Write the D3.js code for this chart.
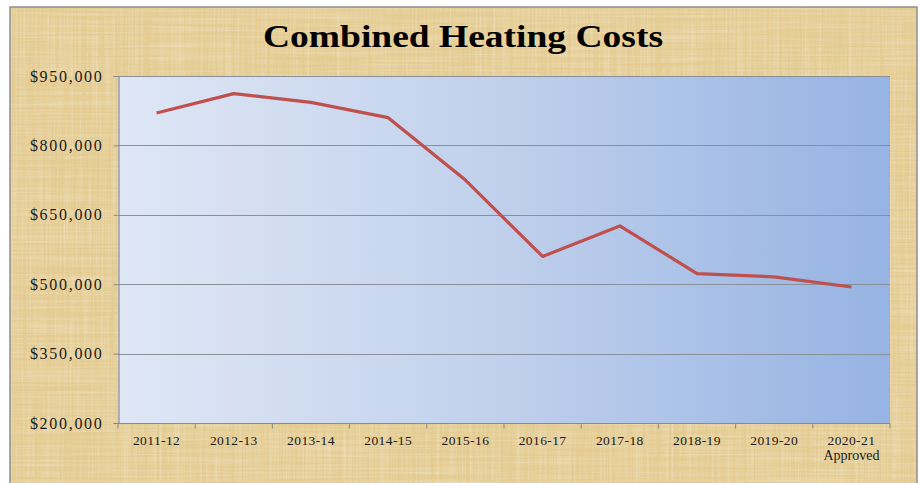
<!DOCTYPE html>
<html>
<head>
<meta charset="utf-8">
<script src="https://cdn.jsdelivr.net/npm/d3@7"></script>
<style>
  html, body { margin: 0; padding: 0; background: #ffffff; }
  svg { display: block; }
</style>
</head>
<body>
<svg id="chart" width="920" height="483"></svg>
<script>
// Fiscal years and combined heating cost per year
const categories = ["2011-12", "2012-13", "2013-14", "2014-15", "2015-16",
                    "2016-17", "2017-18", "2018-19", "2019-20", "2020-21"];
const categorySubLabels = ["", "", "", "", "", "", "", "", "", "Approved"];
const costs = [870000, 912000, 893000, 860000, 725000,
               560000, 626000, 523000, 516000, 494000];
const yTicks = [200000, 350000, 500000, 650000, 800000, 950000];
const titleText = "Combined Heating Costs";

const frame = { left: 10, top: 7, right: 917, bottom: 483 };
const plot = { left: 118, top: 76, right: 890, bottom: 423 };

const svg = d3.select("#chart");
const defs = svg.append("defs");

// Parchment texture: soft blotches over a pale tan base
const blotch = defs.append("filter").attr("id", "blotch")
  .attr("x", 0).attr("y", 0).attr("width", "100%").attr("height", "100%");
blotch.append("feTurbulence").attr("type", "fractalNoise")
  .attr("baseFrequency", "0.015").attr("numOctaves", 2).attr("seed", 2).attr("result", "n");
blotch.append("feColorMatrix").attr("in", "n").attr("type", "matrix")
  .attr("values",
    "0 0 0 0 0.84 " +
    "0 0 0 0 0.72 " +
    "0 0 0 0 0.45 " +
    "1.4 0 0 0 -0.5")
  .attr("result", "tint");
blotch.append("feComposite").attr("in", "tint").attr("in2", "SourceGraphic").attr("operator", "atop");

// Fine crossing fibres
const fibre = defs.append("filter").attr("id", "fibre")
  .attr("x", 0).attr("y", 0).attr("width", "100%").attr("height", "100%");
fibre.append("feTurbulence").attr("type", "fractalNoise")
  .attr("baseFrequency", "0.008 0.5").attr("numOctaves", 2).attr("seed", 4).attr("result", "n1");
fibre.append("feTurbulence").attr("type", "fractalNoise")
  .attr("baseFrequency", "0.5 0.008").attr("numOctaves", 2).attr("seed", 9).attr("result", "n2");
fibre.append("feComposite").attr("in", "n1").attr("in2", "n2")
  .attr("operator", "arithmetic").attr("k2", 0.5).attr("k3", 0.5).attr("result", "n12");
fibre.append("feColorMatrix").attr("in", "n12").attr("type", "matrix")
  .attr("values",
    "0 0 0 0 0.86 " +
    "0 0 0 0 0.74 " +
    "0 0 0 0 0.50 " +
    "2.2 0 0 0 -0.9")
  .attr("result", "tint");
fibre.append("feComposite").attr("in", "tint").attr("in2", "SourceGraphic").attr("operator", "atop");

// Plot area fill: pale blue on the left to a deeper blue on the right
const grad = defs.append("linearGradient").attr("id", "plotFill")
  .attr("x1", "0%").attr("y1", "0%").attr("x2", "100%").attr("y2", "0%");
grad.append("stop").attr("offset", "0%").attr("stop-color", "#dfe7f5");
grad.append("stop").attr("offset", "50%").attr("stop-color", "#c0d0ec");
grad.append("stop").attr("offset", "100%").attr("stop-color", "#96b3e3");

// Background parchment
const bg = (fill, filter) => svg.append("rect")
  .attr("x", frame.left).attr("y", frame.top)
  .attr("width", frame.right - frame.left).attr("height", frame.bottom - frame.top)
  .attr("fill", fill)
  .attr("filter", filter);
bg("#efdcaa", null);
bg("#e4cc92", "url(#blotch)");
bg("#e4cc92", "url(#fibre)");
svg.append("path")
  .attr("d", `M${frame.left},${frame.bottom}V${frame.top}H${frame.right}V${frame.bottom}`)
  .attr("fill", "none").attr("stroke", "#8f8f8f").attr("stroke-width", 1.5);

// Scales
const x = d3.scaleBand().domain(categories).range([plot.left, plot.right]).padding(0);
const y = d3.scaleLinear().domain([200000, 950000]).range([plot.bottom, plot.top]);

// Plot area
svg.append("rect")
  .attr("x", plot.left).attr("y", plot.top)
  .attr("width", plot.right - plot.left).attr("height", plot.bottom - plot.top)
  .attr("fill", "url(#plotFill)");

// Horizontal gridlines
svg.append("g").selectAll("line").data(yTicks.filter(d => d > 200000)).join("line")
  .attr("x1", plot.left).attr("x2", plot.right)
  .attr("y1", d => Math.round(y(d)) + 0.5).attr("y2", d => Math.round(y(d)) + 0.5)
  .attr("stroke", "#8a9099").attr("stroke-width", 1.2);

const fmt = d => "$" + d3.format(",")(d);

// Y axis
const yAxis = svg.append("g")
  .attr("transform", `translate(${plot.left + 0.5},0)`)
  .call(d3.axisLeft(y).tickValues(yTicks).tickFormat(fmt).tickSize(5).tickPadding(10));
yAxis.select(".domain").attr("stroke", "#8a8a8a").attr("stroke-width", 1.2);
yAxis.selectAll(".tick line").attr("stroke", "#8a8a8a");
yAxis.selectAll(".tick text")
  .attr("fill", "#1a1a1a")
  .style("font-family", "'Liberation Serif', serif")
  .style("font-size", "16px")
  .style("letter-spacing", "1.7px");

// X axis: ticks at category boundaries
const xAxisG = svg.append("g").attr("transform", `translate(0,${plot.bottom + 0.5})`);
xAxisG.append("line")
  .attr("x1", plot.left).attr("x2", plot.right)
  .attr("stroke", "#8a8a8a").attr("stroke-width", 1.2);
const bounds = categories.map(c => x(c)).concat([x(categories[categories.length - 1]) + x.bandwidth()]);
xAxisG.selectAll(".bt").data(bounds).join("line").attr("class", "bt")
  .attr("x1", d => d).attr("x2", d => d).attr("y1", 0).attr("y2", 5)
  .attr("stroke", "#8a8a8a");
xAxisG.selectAll(".xl").data(categories).join("text").attr("class", "xl")
  .attr("x", d => x(d) + x.bandwidth() / 2)
  .attr("y", 21)
  .attr("text-anchor", "middle")
  .attr("fill", "#1a1a1a")
  .style("font-family", "'Liberation Serif', serif")
  .style("font-size", "13.5px")
  .style("letter-spacing", "0.4px")
  .text(d => d);
xAxisG.selectAll(".xs").data(categories.filter((d, i) => categorySubLabels[i])).join("text").attr("class", "xs")
  .attr("x", d => x(d) + x.bandwidth() / 2)
  .attr("y", 36)
  .attr("text-anchor", "middle")
  .attr("fill", "#1a1a1a")
  .style("font-family", "'Liberation Serif', serif")
  .style("font-size", "14px")
  .text(d => categorySubLabels[categories.indexOf(d)]);

// Cost line
const line = d3.line()
  .x((d, i) => x(categories[i]) + x.bandwidth() / 2)
  .y(d => y(d));
svg.append("path")
  .datum(costs)
  .attr("d", line)
  .attr("fill", "none")
  .attr("stroke", "#c0504d")
  .attr("stroke-width", 3.2)
  .attr("stroke-linejoin", "round");

// Title
svg.append("text")
  .attr("x", 463).attr("y", 47)
  .attr("text-anchor", "middle")
  .attr("fill", "#000")
  .style("font-family", "'Liberation Serif', serif")
  .style("font-weight", "bold")
  .style("font-size", "31px")
  .attr("textLength", 400)
  .attr("lengthAdjust", "spacingAndGlyphs")
  .text(titleText);
</script>
</body>
</html>
